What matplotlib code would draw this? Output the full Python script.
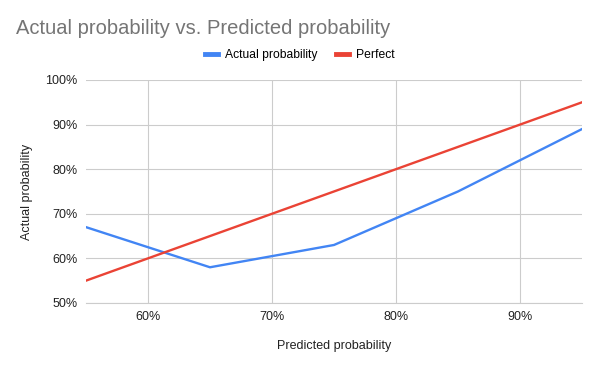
import matplotlib.pyplot as plt
from matplotlib.ticker import PercentFormatter

# data
predicted = [55, 65, 75, 85, 95]
actual = [67, 58, 63, 75, 89]
perfect_x = [55, 95]
perfect_y = [55, 95]

x_ticks = [60, 70, 80, 90]
y_ticks = [50, 60, 70, 80, 90, 100]

plt.rcParams['font.family'] = ['Liberation Sans', 'DejaVu Sans']

fig = plt.figure(figsize=(6, 3.69), dpi=100)
ax = fig.add_axes([0.1433, 0.179, 0.8267, 0.6042])

ax.plot(predicted, actual, color='#4285f4', lw=1.7, label='Actual probability')
ax.plot(perfect_x, perfect_y, color='#ea4335', lw=1.7, label='Perfect')

ax.set_xlim(55, 95)
ax.set_ylim(50, 100)
ax.set_xticks(x_ticks)
ax.set_yticks(y_ticks)
ax.xaxis.set_major_formatter(PercentFormatter(decimals=0))
ax.yaxis.set_major_formatter(PercentFormatter(decimals=0))
ax.grid(True, color='#cccccc', lw=0.8)
ax.set_axisbelow(True)
for s in ['top', 'right', 'left']:
    ax.spines[s].set_visible(False)
ax.spines['bottom'].set_color('#cccccc')
ax.tick_params(length=0, labelsize=9, colors='#222222', pad=6)

ax.set_xlabel('Predicted probability', fontsize=9, color='#222222', labelpad=12)
ax.set_ylabel('Actual probability', fontsize=9, color='#222222', labelpad=9)

fig.text(0.027, 0.924, 'Actual probability vs. Predicted probability',
         fontsize=14.5, color='#757575', va='center')
fig.legend(loc='center', bbox_to_anchor=(0.5, 0.851), ncol=2, frameon=False,
           fontsize=8.7, handlelength=1.08, handleheight=0.5, columnspacing=1.5,
           handletextpad=0.58)
for line in fig.legends[0].get_lines():
    line.set_linewidth(3.5)

fig.savefig('out.png', dpi=100)
